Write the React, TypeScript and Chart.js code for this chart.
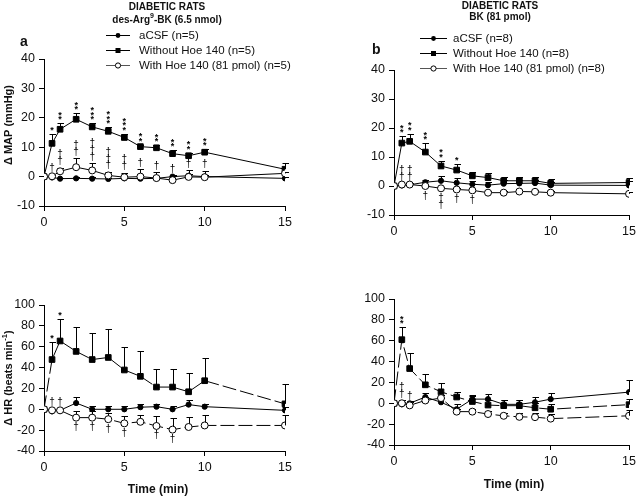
import React, { useEffect, useRef } from 'react';
import { Chart, registerables } from 'chart.js';

Chart.register(...registerables);

const W = 640;
const H = 497;
const FONT = "'Liberation Sans', Arial, sans-serif";
const INK = '#111';

// ---------- data ----------
const times = [0, 0.5, 1, 2, 3, 4, 5, 6, 7, 8, 9, 10, 15];

// Panel a (des-Arg9-BK) – Δ MAP
const mapA_acsf = [0, -0.3, -0.7, -0.6, -0.7, -0.8, -0.6, -0.7, -0.6, 0.0, 0.3, 0.0, -0.6];
const mapA_acsfErr = [0, 0.3, 0.3, 0.4, 0.4, 0.4, 0.4, 0.4, 0.4, 0.4, 0.5, 0.4, 0.4];
const mapA_without = [0, 11.3, 16.1, 19.5, 16.9, 15.4, 13.3, 10.2, 9.8, 7.8, 7.1, 8.3, 2.5];
const mapA_withoutErr = [0, 3.1, 2.0, 2.1, 1.3, 1.4, 1.2, 0.7, 0.8, 1.1, 1.0, 1.0, 2.0];
const mapA_with = [0, 0.1, 1.8, 3.2, 2.1, 0.4, -0.2, 0.0, -0.5, -1.2, -0.1, -0.2, 1.1];
const mapA_withErr = [0, 0.5, 1.2, 3.0, 2.4, 1.2, 1.5, 2.5, 1.9, 1.5, 2.2, 2.2, 0.5];
const mapA_stars = [0, 1, 2, 2, 3, 3, 3, 2, 2, 2, 2, 2, 0];
const mapA_daggers = [0, 1, 2, 2, 3, 3, 2, 1, 1, 1, 1, 1, 0];

// Panel b (BK) – Δ MAP
const mapB_acsf = [0, 0.2, 0.4, 1.3, 1.8, 1.1, 0.6, 0.3, 0.8, 0.9, 1.0, 0.3, 0.2];
const mapB_acsfErr = [0, 0.5, 0.5, 0.8, 1.8, 1.5, 1.2, 1.2, 1.2, 1.2, 1.2, 1.0, 1.5];
const mapB_without = [0, 14.8, 15.4, 11.7, 6.9, 5.5, 3.5, 2.9, 1.8, 1.8, 1.8, 0.9, 1.2];
const mapB_withoutErr = [0, 2.3, 2.6, 3.1, 1.8, 2.0, 1.5, 1.5, 1.4, 1.4, 1.4, 1.4, 1.6];
const mapB_with = [0, 0.5, 0.5, 0.0, -0.8, -1.2, -1.5, -2.3, -2.3, -1.9, -2.0, -2.3, -2.7];
const mapB_withErr = [0, 0.3, 0.3, 0.5, 0.5, 0.5, 0.5, 0.5, 0.5, 0.5, 0.5, 0.5, 0.5];
const mapB_stars = [0, 2, 2, 2, 2, 1, 0, 0, 0, 0, 0, 0, 0];
const mapB_daggers = [0, 2, 2, -1, -2, -1, -1, 0, 0, 0, 0, 0, 0];

// Panel a (des-Arg9-BK) – Δ HR
const hrA_acsf = [0, -2, -1, 6, 0, 0, 0, 2, 2.5, 0, 4.5, 2.5, -1];
const hrA_acsfErr = [0, 1.5, 1.5, 6, 3.5, 3.5, 3.5, 3, 3, 3, 4, 3, 3];
const hrA_without = [0, 47.7, 65.5, 55.5, 47.7, 49.7, 37.7, 31.6, 21.3, 21.3, 16.8, 27.4, 5.2];
const hrA_withoutErr = [0, 16.8, 21.5, 23.5, 25, 27, 22, 24, 17, 17, 18, 22, 19];
const hrA_with = [0, -1, -1, -8, -8, -9.5, -13.5, -12, -16, -19.5, -17, -15.5, -15.5];
const hrA_withErr = [0, 1.5, 1.5, 6, 6, 6, 7, 7, 10, 11, 10, 10, 10];
const hrA_stars = [0, 1, 1, 0, 0, 0, 0, 0, 0, 0, 0, 0, 0];
const hrA_daggers = [0, 1, 1, -1, -1, -1, -1, 0, -1, -1, 0, 0, 0];

// Panel b (BK) – Δ HR
const hrB_acsf = [0, -1, 0, 6, 1, -5.7, 4, 4, -1, -1, 1, 4, 10.7];
const hrB_acsfErr = [0, 2, 2, 4, 4, 5, 4.3, 5, 4, 4, 5.5, 6, 12];
const hrB_without = [0, 61, 33.3, 17.7, 11, 6, 1.7, -1.7, -2.3, -2.3, -4.3, -5.7, -1.3];
const hrB_withoutErr = [0, 12, 15.3, 10, 8, 5, 5, 5, 5, 5, 5, 5, 5];
const hrB_with = [0, 0, -2, 2.7, 5, -8, -8, -10.3, -12, -13, -13.3, -14.7, -12];
const hrB_withErr = [0, 3, 3, 3, 3, 3, 3, 3, 3, 4, 4, 4, 6];
const hrB_stars = [0, 2, 0, 0, 0, 0, 0, 0, 0, 0, 0, 0, 0];
const hrB_daggers = [0, 2, 1, 0, 0, 0, 0, 0, 0, 0, 0, 0, 0];

// ---------- helpers ----------
type Kind = 'acsf' | 'without' | 'with';
type Series = { kind: Kind; values: number[]; errors: number[]; dashed: boolean };
type Area = { left: number; top: number; right: number; bottom: number };
type PanelCfg = {
  id: string;
  area: Area;
  yMin: number;
  yMax: number;
  yStep: number;
  series: Series[];
  stars: number[];
  daggers: number[];
  decorate: (ctx: CanvasRenderingContext2D) => void;
};

function drawCentered(ctx: CanvasRenderingContext2D, text: string, x: number, cy: number) {
  const m = ctx.measureText(text);
  const asc = m.actualBoundingBoxAscent;
  const desc = m.actualBoundingBoxDescent;
  ctx.textAlign = 'center';
  ctx.textBaseline = 'alphabetic';
  ctx.fillText(text, x, cy + (asc - desc) / 2);
}

type Part = { t: string; sup?: boolean };
function drawRich(
  ctx: CanvasRenderingContext2D,
  parts: Part[],
  x: number,
  y: number,
  size: number,
  weight: string,
  align: 'center' | 'left'
) {
  const f = (sup?: boolean) => `${weight} ${sup ? size * 0.7 : size}px ${FONT}`;
  let total = 0;
  const widths = parts.map((p) => {
    ctx.font = f(p.sup);
    const w = ctx.measureText(p.t).width;
    total += w;
    return w;
  });
  let cx = align === 'center' ? x - total / 2 : x;
  ctx.textAlign = 'left';
  ctx.textBaseline = 'middle';
  parts.forEach((p, i) => {
    ctx.font = f(p.sup);
    ctx.fillText(p.t, cx, p.sup ? y - size * 0.38 : y);
    cx += widths[i];
  });
}

function drawMarker(ctx: CanvasRenderingContext2D, kind: Kind, x: number, y: number) {
  ctx.save();
  ctx.lineWidth = 1;
  ctx.strokeStyle = '#000';
  if (kind === 'without') {
    ctx.fillStyle = '#000';
    ctx.fillRect(x - 2.5, y - 2.5, 5, 5);
  } else if (kind === 'acsf') {
    ctx.fillStyle = '#000';
    ctx.beginPath();
    ctx.arc(x, y, 2.4, 0, Math.PI * 2);
    ctx.fill();
  } else {
    ctx.fillStyle = '#fff';
    ctx.beginPath();
    ctx.arc(x, y, 2.6, 0, Math.PI * 2);
    ctx.fill();
    ctx.stroke();
  }
  ctx.restore();
}

function drawLegend(
  ctx: CanvasRenderingContext2D,
  labels: string[],
  x1: number,
  x2: number,
  tx: number,
  ys: number[]
) {
  const kinds: Kind[] = ['acsf', 'without', 'with'];
  ctx.save();
  kinds.forEach((k, i) => {
    const y = ys[i];
    ctx.strokeStyle = k === 'with' ? '#555' : '#000';
    ctx.lineWidth = 1;
    ctx.beginPath();
    ctx.moveTo(x1, y + 0.5);
    ctx.lineTo(x2, y + 0.5);
    ctx.stroke();
    drawMarker(ctx, k, (x1 + x2) / 2, y + 0.5);
    ctx.fillStyle = INK;
    ctx.font = `11.5px ${FONT}`;
    ctx.textAlign = 'left';
    ctx.textBaseline = 'middle';
    ctx.fillText(labels[i], tx, y + 1);
  });
  ctx.restore();
}

function makePlugin(cfg: PanelCfg) {
  return {
    id: 'decor_' + cfg.id,
    beforeDatasetsDraw(chart: any) {
      const ctx: CanvasRenderingContext2D = chart.ctx;
      const xs = chart.scales.x;
      const ys = chart.scales.y;
      ctx.save();
      ctx.strokeStyle = '#000';
      ctx.lineWidth = 1;
      cfg.series.forEach((s) => {
        times.forEach((t, j) => {
          const e = s.errors[j];
          if (!e) return;
          const x = Math.round(xs.getPixelForValue(t)) + 0.5;
          const y0 = ys.getPixelForValue(s.values[j]);
          const y1 = Math.round(ys.getPixelForValue(s.values[j] + e)) + 0.5;
          ctx.beginPath();
          ctx.moveTo(x, y0);
          ctx.lineTo(x, y1);
          ctx.moveTo(x - 3, y1);
          ctx.lineTo(x + 3.5, y1);
          ctx.stroke();
        });
      });
      ctx.restore();
    },
    afterDatasetsDraw(chart: any) {
      const ctx: CanvasRenderingContext2D = chart.ctx;
      const xs = chart.scales.x;
      const ys = chart.scales.y;
      const wo = cfg.series.find((s) => s.kind === 'without')!;
      const wi = cfg.series.find((s) => s.kind === 'with')!;
      ctx.save();
      ctx.fillStyle = '#000';
      ctx.font = `bold 9px ${FONT}`;
      times.forEach((t, j) => {
        const n = cfg.stars[j];
        if (!n) return;
        const x = xs.getPixelForValue(t);
        const yCap = ys.getPixelForValue(wo.values[j] + wo.errors[j]);
        for (let k = 0; k < n; k++) drawCentered(ctx, '*', x, yCap - 5 - k * 4.5);
      });
      ctx.font = `10px ${FONT}`;
      times.forEach((t, j) => {
        const n = cfg.daggers[j];
        if (!n) return;
        const x = xs.getPixelForValue(t);
        if (n > 0) {
          const yCap = ys.getPixelForValue(wi.values[j] + wi.errors[j]);
          for (let k = 0; k < n; k++) drawCentered(ctx, '†', x, yCap - 7 - k * 6.8);
        } else {
          const yPt = ys.getPixelForValue(wi.values[j]);
          for (let k = 0; k < -n; k++) drawCentered(ctx, '†', x, yPt + 9 + k * 6.8);
        }
      });
      ctx.restore();
    },
    afterDraw(chart: any) {
      const ctx: CanvasRenderingContext2D = chart.ctx;
      ctx.save();
      ctx.fillStyle = INK;
      cfg.decorate(ctx);
      ctx.restore();
    },
  };
}

function buildChart(canvas: HTMLCanvasElement, cfg: PanelCfg) {
  const a = cfg.area;
  const order: Kind[] = ['with', 'without', 'acsf'];
  const sorted = order.map((k) => cfg.series.find((s) => s.kind === k)!);
  return new Chart(canvas, {
    type: 'line',
    data: {
      datasets: sorted.map((s) => ({
        label: s.kind,
        data: times.map((t, i) => ({ x: t, y: s.values[i] })),
        borderColor: '#000',
        borderWidth: 1,
        borderDash: s.dashed ? [14, 4] : [],
        pointStyle: s.kind === 'without' ? 'rect' : 'circle',
        pointRadius: s.kind === 'without' ? 4 : s.kind === 'with' ? 3.5 : 2.6,
        pointBackgroundColor: s.kind === 'with' ? '#fff' : '#000',
        pointBorderColor: '#000',
        pointBorderWidth: 1,
        tension: 0,
        fill: false,
      })),
    },
    options: {
      responsive: false,
      maintainAspectRatio: false,
      animation: false,
      devicePixelRatio: 1,
      events: [],
      layout: {
        autoPadding: false,
        padding: { left: a.left - 40, top: a.top, right: W - a.right, bottom: H - a.bottom - 30 },
      },
      plugins: { legend: { display: false }, tooltip: { enabled: false }, title: { display: false } },
      scales: {
        x: {
          type: 'linear',
          min: 0,
          max: 15,
          ticks: { stepSize: 5, color: INK, font: { family: FONT, size: 12.5 }, padding: 4, maxRotation: 0 },
          grid: { drawOnChartArea: false, drawTicks: true, tickLength: 5, color: '#000' },
          border: { display: true, color: '#000', width: 1 },
          afterFit: (s: any) => {
            s.height = 30;
          },
        },
        y: {
          type: 'linear',
          min: cfg.yMin,
          max: cfg.yMax,
          ticks: { stepSize: cfg.yStep, color: INK, font: { family: FONT, size: 12.5 }, padding: 4 },
          grid: { drawOnChartArea: false, drawTicks: true, tickLength: 5, color: '#000' },
          border: { display: true, color: '#000', width: 1 },
          afterFit: (s: any) => {
            s.width = 40;
          },
        },
      },
    } as any,
    plugins: [makePlugin(cfg) as any],
  });
}

// ---------- panels ----------
const panels: PanelCfg[] = [
  {
    id: 'aTop',
    area: { left: 44, top: 59, right: 285, bottom: 206 },
    yMin: -10,
    yMax: 40,
    yStep: 10,
    series: [
      { kind: 'acsf', values: mapA_acsf, errors: mapA_acsfErr, dashed: false },
      { kind: 'without', values: mapA_without, errors: mapA_withoutErr, dashed: false },
      { kind: 'with', values: mapA_with, errors: mapA_withErr, dashed: false },
    ],
    stars: mapA_stars,
    daggers: mapA_daggers,
    decorate: (ctx) => {
      drawRich(ctx, [{ t: 'DIABETIC RATS' }], 167, 7, 10, 'bold', 'center');
      drawRich(ctx, [{ t: 'des-Arg' }, { t: '9', sup: true }, { t: '-BK (6.5 nmol)' }], 167, 20, 10, 'bold', 'center');
      drawRich(ctx, [{ t: 'a' }], 20, 42, 14, 'bold', 'left');
      drawLegend(ctx, ['aCSF (n=5)', 'Without Hoe 140 (n=5)', 'With Hoe 140 (81 pmol) (n=5)'], 106, 130, 139, [35, 50, 65]);
      ctx.save();
      ctx.translate(9, 125);
      ctx.rotate(-Math.PI / 2);
      drawRich(ctx, [{ t: 'Δ MAP (mmHg)' }], 0, 0, 11, 'bold', 'center');
      ctx.restore();
    },
  },
  {
    id: 'bTop',
    area: { left: 394, top: 70, right: 633, bottom: 215 },
    yMin: -10,
    yMax: 40,
    yStep: 10,
    series: [
      { kind: 'acsf', values: mapB_acsf, errors: mapB_acsfErr, dashed: false },
      { kind: 'without', values: mapB_without, errors: mapB_withoutErr, dashed: false },
      { kind: 'with', values: mapB_with, errors: mapB_withErr, dashed: false },
    ],
    stars: mapB_stars,
    daggers: mapB_daggers,
    decorate: (ctx) => {
      drawRich(ctx, [{ t: 'DIABETIC RATS' }], 500, 6, 10, 'bold', 'center');
      drawRich(ctx, [{ t: 'BK (81 pmol)' }], 500, 17, 10, 'bold', 'center');
      drawRich(ctx, [{ t: 'b' }], 372, 50, 14, 'bold', 'left');
      drawLegend(ctx, ['aCSF (n=8)', 'Without Hoe 140 (n=8)', 'With Hoe 140 (81 pmol) (n=8)'], 420, 447, 453, [38, 53, 68]);
    },
  },
  {
    id: 'aBot',
    area: { left: 44, top: 305, right: 285, bottom: 451 },
    yMin: -40,
    yMax: 100,
    yStep: 20,
    series: [
      { kind: 'acsf', values: hrA_acsf, errors: hrA_acsfErr, dashed: false },
      { kind: 'without', values: hrA_without, errors: hrA_withoutErr, dashed: true },
      { kind: 'with', values: hrA_with, errors: hrA_withErr, dashed: true },
    ],
    stars: hrA_stars,
    daggers: hrA_daggers,
    decorate: (ctx) => {
      ctx.save();
      ctx.translate(9, 378);
      ctx.rotate(-Math.PI / 2);
      drawRich(ctx, [{ t: 'Δ HR (beats min' }, { t: '-1', sup: true }, { t: ')' }], 0, 0, 11, 'bold', 'center');
      ctx.restore();
      drawRich(ctx, [{ t: 'Time (min)' }], 158, 490, 12, 'bold', 'center');
    },
  },
  {
    id: 'bBot',
    area: { left: 394, top: 299, right: 633, bottom: 445 },
    yMin: -40,
    yMax: 100,
    yStep: 20,
    series: [
      { kind: 'acsf', values: hrB_acsf, errors: hrB_acsfErr, dashed: false },
      { kind: 'without', values: hrB_without, errors: hrB_withoutErr, dashed: true },
      { kind: 'with', values: hrB_with, errors: hrB_withErr, dashed: true },
    ],
    stars: hrB_stars,
    daggers: hrB_daggers,
    decorate: (ctx) => {
      drawRich(ctx, [{ t: 'Time (min)' }], 514, 485, 12, 'bold', 'center');
    },
  },
];

function Panel({ cfg }: { cfg: PanelCfg }) {
  const ref = useRef<HTMLCanvasElement>(null);
  useEffect(() => {
    if (!ref.current) return;
    const chart = buildChart(ref.current, cfg);
    return () => chart.destroy();
  }, [cfg]);
  return (
    <canvas
      ref={ref}
      width={W}
      height={H}
      style={{ position: 'absolute', left: 0, top: 0, width: W, height: H }}
    />
  );
}

export default function App() {
  return (
    <div
      style={{
        position: 'fixed',
        left: 0,
        top: 0,
        width: W,
        height: H,
        background: '#fff',
        overflow: 'hidden',
      }}
    >
      {panels.map((p) => (
        <Panel key={p.id} cfg={p} />
      ))}
    </div>
  );
}
